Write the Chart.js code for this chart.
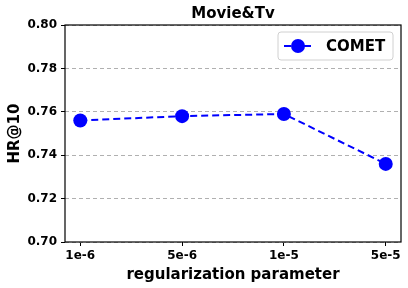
<!DOCTYPE html>
<html>
<head>
<meta charset="utf-8">
<script src="https://cdn.jsdelivr.net/npm/chart.js@4"></script>
<style>
  html, body { margin: 0; padding: 0; background: #fff; }
  #wrap { width: 408px; height: 288px; }
</style>
</head>
<body>
<div id="wrap"><canvas id="myChart" width="408" height="288"></canvas></div>
<script>
// data
const paramLabels = ['1e-6', '5e-6', '1e-5', '5e-5'];
const cometHR = [0.756, 0.758, 0.759, 0.736];
const yTicks = [0.70, 0.72, 0.74, 0.76, 0.78, 0.80];

const font = 'DejaVu Sans';

// frame round the plot area plus the matplotlib-like legend box
const framePlugin = {
    id: 'frame',
    afterDatasetsDraw(chart) {
        const {ctx, chartArea: a} = chart;
        ctx.save();
        ctx.strokeStyle = '#000';
        ctx.lineWidth = 1.2;
        ctx.strokeRect(a.left, a.top, a.right - a.left, a.bottom - a.top);

        // legend
        const lx = a.right - 123, ly = a.top + 7, lw = 115, lh = 28;
        ctx.fillStyle = 'rgba(255,255,255,0.8)';
        ctx.strokeStyle = '#d0d0d0';
        ctx.lineWidth = 1;
        ctx.beginPath();
        ctx.roundRect(lx, ly, lw, lh, 3);
        ctx.fill();
        ctx.stroke();
        const cy = ly + lh / 2;
        ctx.strokeStyle = 'blue';
        ctx.lineWidth = 2;
        ctx.setLineDash([7, 3]);
        ctx.beginPath();
        ctx.moveTo(lx + 6, cy);
        ctx.lineTo(lx + 34, cy);
        ctx.stroke();
        ctx.setLineDash([]);
        ctx.fillStyle = 'blue';
        ctx.beginPath();
        ctx.arc(lx + 20, cy, 7, 0, Math.PI * 2);
        ctx.fill();
        ctx.fillStyle = '#000';
        ctx.font = 'bold 15px ' + font;
        ctx.textBaseline = 'middle';
        ctx.textAlign = 'left';
        ctx.fillText('COMET', lx + 48, cy + 1);
        ctx.restore();
    }
};

const data = {
    datasets: [{
        label: 'COMET',
        data: cometHR.map((v, i) => ({x: i, y: v})),
        borderColor: 'blue',
        backgroundColor: 'blue',
        borderWidth: 2,
        borderDash: [7, 4],
        pointRadius: 7,
        pointHoverRadius: 7,
        pointBorderWidth: 0,
        fill: false
    }]
};

const config = {
    type: 'line',
    data: data,
    plugins: [framePlugin],
    options: {
        responsive: false,
        animation: false,
        layout: { padding: { left: 0, right: 7, top: 0, bottom: 0 } },
        plugins: {
            legend: { display: false },
            tooltip: { enabled: false },
            title: {
                display: true,
                text: 'Movie&Tv',
                fullSize: false,
                color: '#000',
                font: { family: font, size: 15, weight: 'bold' },
                padding: { top: 5, bottom: 2 }
            }
        },
        scales: {
            x: {
                type: 'linear',
                min: -0.15,
                max: 3.15,
                afterBuildTicks: s => { s.ticks = paramLabels.map((_, i) => ({value: i})); },
                afterFit: s => { s.height = 46; },
                ticks: {
                    color: '#000',
                    font: { family: font, size: 12, weight: 'bold' },
                    padding: 3,
                    maxRotation: 0,
                    callback: v => paramLabels[v]
                },
                grid: { drawOnChartArea: false, drawTicks: true, tickLength: 4, tickColor: '#000' },
                border: { display: false },
                title: {
                    display: true,
                    text: 'regularization parameter',
                    color: '#000',
                    font: { family: font, size: 15, weight: 'bold' },
                    padding: { top: 0, bottom: 4 }
                }
            },
            y: {
                min: 0.70,
                max: 0.80,
                afterBuildTicks: s => { s.ticks = yTicks.map(v => ({value: v})); },
                afterFit: s => { s.width = 65; },
                ticks: {
                    color: '#000',
                    font: { family: font, size: 12, weight: 'bold' },
                    padding: 4,
                    callback: v => v.toFixed(2)
                },
                grid: { color: '#b0b0b0', lineWidth: 1, tickLength: 4, tickColor: '#000' },
                border: { display: false, dash: [4, 3] },
                title: {
                    display: true,
                    text: 'HR@10',
                    color: '#000',
                    font: { family: font, size: 15, weight: 'bold' },
                    padding: { top: 6, bottom: 0 }
                }
            }
        }
    }
};

const ctx = document.getElementById('myChart').getContext('2d');
const myChart = new Chart(ctx, config);
</script>
</body>
</html>
